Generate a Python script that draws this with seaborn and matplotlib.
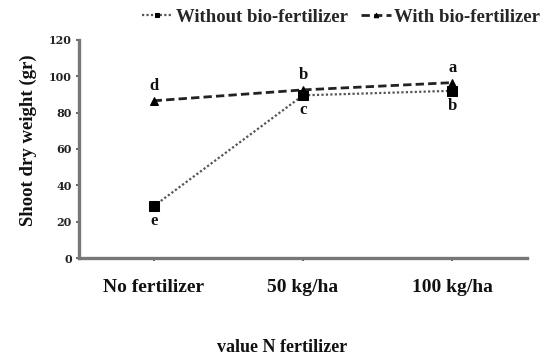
import matplotlib
matplotlib.use("Agg")
import matplotlib.pyplot as plt
import seaborn as sns
import pandas as pd

categories = ["No fertilizer", "50 kg/ha", "100 kg/ha"]
without_bio = [28.5, 89.5, 92.0]
with_bio = [86.5, 92.5, 96.5]
letters_without = ["e", "c", "b"]
letters_with = ["d", "b", "a"]
y_ticks = [0, 20, 40, 60, 80, 100, 120]

sns.set_theme(style="ticks")
plt.rcParams["font.family"] = ["Liberation Serif", "DejaVu Serif"]
plt.rcParams["font.weight"] = "bold"

df = pd.DataFrame({
    "cat": categories * 2,
    "x": list(range(len(categories))) * 2,
    "val": without_bio + with_bio,
    "series": ["Without bio-fertilizer"] * 3 + ["With bio-fertilizer"] * 3,
})

fig = plt.figure(figsize=(5.52, 3.56), dpi=100)
ax = fig.add_axes([0.143, 0.275, 0.812, 0.613])

sub1 = df[df.series == "Without bio-fertilizer"]
sub2 = df[df.series == "With bio-fertilizer"]
sns.lineplot(data=sub1, x="x", y="val", ax=ax, color="#555555", linestyle=(0, (1, 1)),
             linewidth=1.6, marker="s", markersize=6.5, markerfacecolor="black",
             markeredgecolor="black", label="Without bio-fertilizer")
sns.lineplot(data=sub2, x="x", y="val", ax=ax, color="#222222", linestyle=(0, (3, 1.5)),
             linewidth=2.0, marker="^", markersize=6, markerfacecolor="black",
             markeredgecolor="black", label="With bio-fertilizer")

for i in range(len(categories)):
    ax.annotate(letters_with[i], (i, with_bio[i]), xytext=(0, 5), textcoords="offset points",
                ha="center", va="bottom", fontsize=12, fontweight="bold", color="#111111")
    ax.annotate(letters_without[i], (i, without_bio[i]), xytext=(0, -5), textcoords="offset points",
                ha="center", va="top", fontsize=12, fontweight="bold", color="#111111")

ax.set_xlim(-0.5, 2.5)
ax.set_ylim(0, 120)
ax.set_yticks(y_ticks)
ax.set_yticklabels([str(t) for t in y_ticks], fontsize=8, fontweight="bold", color="#222222",
                   family=["DejaVu Serif"])
ax.set_xticks(range(len(categories)))
ax.set_xticklabels(categories, fontsize=14, fontweight="bold", color="#111111")
ax.tick_params(axis="x", length=2, pad=13, color="#555555")
ax.tick_params(axis="y", length=2, pad=3, color="#555555")
for s in ["left", "bottom"]:
    ax.spines[s].set_color("#777777")
    ax.spines[s].set_linewidth(2.4)
sns.despine(ax=ax)

ax.set_xlabel("value N fertilizer", fontsize=13, fontweight="bold", color="#111111")
ax.xaxis.set_label_coords(0.453, -0.37)
ax.set_ylabel("Shoot dry weight (gr)", fontsize=13.5, fontweight="bold", color="#111111")
ax.yaxis.set_label_coords(-0.093, 0.54)

leg = ax.legend(loc="center", bbox_to_anchor=(0.585, 1.105), ncol=2, frameon=False,
                fontsize=13.5, handlelength=1.6, handletextpad=0.2, columnspacing=0.7,
                borderaxespad=0, markerscale=0.55)
for t in leg.get_texts():
    t.set_fontweight("bold")

fig.savefig("out.png", dpi=100)
